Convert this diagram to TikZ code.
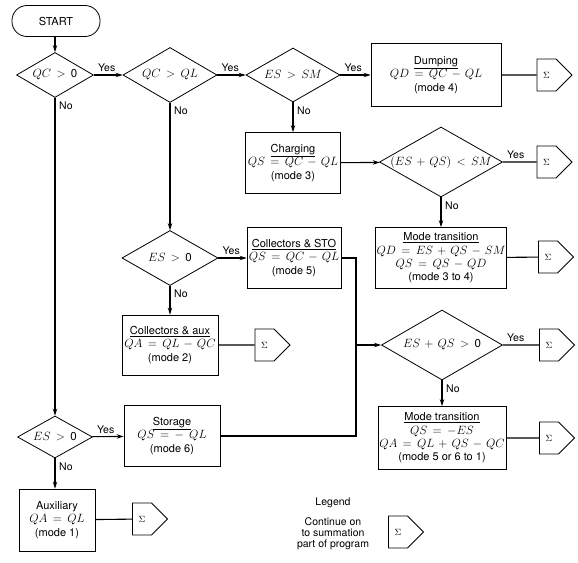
\documentclass[tikz,border=0pt]{standalone}
\usepackage[no-math]{fontspec}
\setmainfont{TeX Gyre Heros}
\usetikzlibrary{shapes.geometric,shapes.symbols,arrows.meta}
\newcommand\dt[1]{\makebox[0pt]{\fontsize{11.5}{12}\selectfont$#1$}}
\newcommand\eqn[1]{{\fontsize{11.5}{12}\selectfont$#1$}}
\begin{document}
\begin{tikzpicture}[x=1pt,y=-1pt,
  every node/.style={font=\fontsize{11}{13.5}\selectfont},
  ln/.style={line width=1.1pt},
  arr/.style={ln,-{Stealth[length=7pt,width=4.5pt]}},
  dia/.style 2 args={draw,diamond,line width=0.8pt,inner sep=0pt,minimum width=#1,minimum height=#2},
  bx/.style 2 args={draw,rectangle,line width=0.8pt,inner sep=1pt,minimum width=#1,minimum height=#2,align=center},
  sig/.style={draw,signal,signal to=east,line width=0.8pt,inner sep=0pt,minimum width=35pt,minimum height=32pt,font=\fontsize{9}{10}\selectfont},
  lab/.style={inner sep=0pt,font=\fontsize{10.5}{12}\selectfont},
  startbox/.style={draw,rectangle,rounded corners=15pt,line width=0.8pt,minimum width=88pt,minimum height=31pt}
]
\thickmuskip=8mu plus 2mu
\medmuskip=6mu plus 2mu
\useasboundingbox (0,0) rectangle (578,562);

\node[startbox] (start) at (56,21) {START};
\node[dia={77}{45}] (d1) at (55,75) {\dt{QC > \mbox{0}}};
\node[dia={94}{55}] (d2) at (170,75) {\dt{QC > QL}};
\node[dia={94}{54}] (d3) at (293,75) {\dt{ES > SM}};
\node[bx={130}{63}] (dump) at (436,75) {\underline{Dumping}\\ \eqn{QD = QC - QL}\\ (mode 4)};
\node[sig] (s1) at (546.5,75) {$\Sigma$};

\node[bx={95}{61}] (charge) at (293,163) {\underline{Charging}\\ \eqn{QS = QC - QL}\\ (mode 3)};
\node[dia={123}{70}] (d4) at (441,162) {\dt{(ES + QS) < SM}};
\node[sig] (s2) at (546.5,162) {$\Sigma$};

\node[bx={129}{61},font=\fontsize{11}{13.4}\selectfont] (mt1) at (441,258) {\underline{Mode transition}\\ \eqn{QD = ES + QS - SM}\\ \eqn{QS = QS - QD}\\ (mode 3 to 4)};
\node[sig] (s3) at (548,257) {$\Sigma$};

\node[dia={96}{55}] (d5) at (170,258) {\dt{ES > \mbox{0}}};
\node[bx={94}{61}] (cs) at (294,258) {\underline{Collectors \& STO}\\ \eqn{QS = QC - QL}\\ (mode 5)};

\node[bx={96}{60}] (ca) at (170,345) {\underline{Collectors \& aux}\\ \eqn{QA = QL - QC}\\ (mode 2)};
\node[sig] (s4) at (264.5,345) {$\Sigma$};

\node[dia={121}{70}] (d6) at (442,345) {\dt{ES + QS > \mbox{0}}};
\node[sig] (s5) at (549,345) {$\Sigma$};

\node[bx={128}{63},font=\fontsize{11}{13.4}\selectfont] (mt2) at (442,438) {\underline{Mode transition}\\ \eqn{QS = -ES}\\ \eqn{QA = QL + QS - QC}\\ (mode 5 or 6 to 1)};
\node[sig] (s6) at (549,438) {$\Sigma$};

\node[dia={75}{42}] (d7) at (55,437) {\dt{ES > \mbox{0}}};
\node[bx={96}{61}] (storage) at (172,436) {\underline{Storage}\\ \eqn{QS = -\;QL}\\ (mode 6)};

\node[bx={76}{62}] (aux) at (57,520) {Auxiliary\\ \eqn{QA = QL}\\ (mode 1)};
\node[sig] (s7) at (142,519) {$\Sigma$};

\node[lab] (leg) at (333,503) {Legend};
\node[lab,align=center,font=\fontsize{10.5}{11.2}\selectfont] (legt) at (333,534) {Continue on\\to summation\\part of program};
\node[sig] (s8) at (398,532) {$\Sigma$};

\coordinate (jt) at (356,258);
\coordinate (jm) at (356,345);
\coordinate (jb) at (356,436);

% connectors
\draw[arr] (start.south -| d1.north) -- (d1.north);
\draw[arr] (d1) -- (d2);
\draw[arr] (d2) -- (d3);
\draw[arr] (d3) -- (dump);
\draw[ln] (dump) -- (s1);
\draw[arr] (d1) -- (d7);
\draw[arr] (d2) -- (d5);
\draw[arr] (d3) -- (charge);
\draw[arr] (charge) -- (d4);
\draw[ln] (d4) -- (s2);
\draw[arr] (d4) -- (mt1);
\draw[ln] (mt1) -- (s3);
\draw[arr] (d5) -- (cs);
\draw[arr] (d5) -- (ca);
\draw[ln] (ca) -- (s4);
\draw[ln] (cs.east) -- (jt) -- (jb) -- (storage.east);
\draw[arr] (jm) -- (d6.west);
\draw[ln] (d6) -- (s5);
\draw[arr] (d6) -- (mt2);
\draw[ln] (mt2) -- (s6);
\draw[arr] (d7) -- (storage);
\draw[arr] (d7.south) -- (d7.south |- aux.north);
\draw[ln] (aux) -- (s7);

% labels
\node[lab,anchor=south west] (y1) at ([shift={(4,-3)}]d1.east) {Yes};
\node[lab,anchor=south west] (y2) at ([shift={(4,-3)}]d2.east) {Yes};
\node[lab,anchor=south west] (y3) at ([shift={(4,-3)}]d3.east) {Yes};
\node[lab,anchor=south west] (y4) at ([shift={(4,-3)}]d4.east) {Yes};
\node[lab,anchor=south west] (y5) at ([shift={(4,-3)}]d5.east) {Yes};
\node[lab,anchor=south west] (y6) at ([shift={(4,-3)}]d6.east) {Yes};
\node[lab,anchor=south west] (y7) at ([shift={(4,-3)}]d7.east) {Yes};
\node[lab,anchor=north west] (n1) at ([shift={(4,4)}]d1.south) {No};
\node[lab,anchor=north west] (n2) at ([shift={(4,4)}]d2.south) {No};
\node[lab,anchor=north west] (n3) at ([shift={(4,4)}]d3.south) {No};
\node[lab,anchor=north west] (n4) at ([shift={(4,4)}]d4.south) {No};
\node[lab,anchor=north west] (n5) at ([shift={(4,4)}]d5.south) {No};
\node[lab,anchor=north west] (n6) at ([shift={(4,4)}]d6.south) {No};
\node[lab,anchor=north west] (n7) at ([shift={(4,4)}]d7.south) {No};
\end{tikzpicture}
\end{document}
